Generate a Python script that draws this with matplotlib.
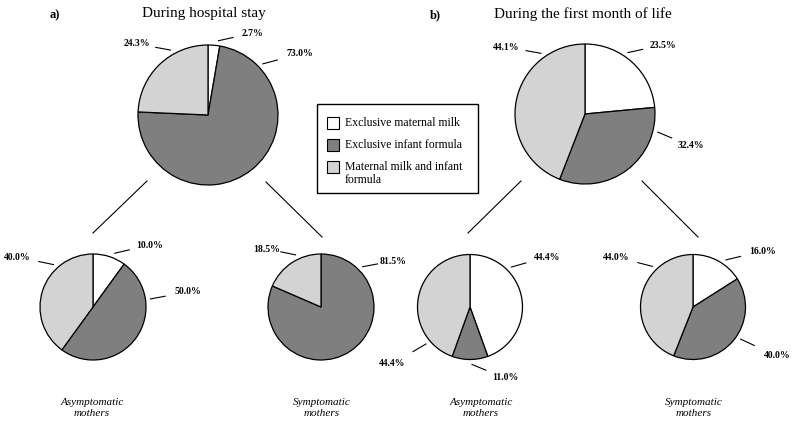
import numpy as np
import matplotlib
matplotlib.use("Agg")
import matplotlib.pyplot as plt
from matplotlib.patches import Rectangle

plt.rcParams.update({"font.family": ["Liberation Serif", "DejaVu Serif"]})

W, H = 798, 426

# data: share of feeding type (white, dark, light) per group
categories = ["Exclusive maternal milk", "Exclusive infant formula",
              "Maternal milk and infant\nformula"]
hosp_all = [2.7, 73.0, 24.3]
hosp_asym = [10.0, 50.0, 40.0]
hosp_sym = [0.0, 81.5, 18.5]
month_all = [23.5, 32.4, 44.1]
month_asym = [44.4, 11.0, 44.4]
month_sym = [16.0, 40.0, 44.0]

COLS = ["white", "#7f7f7f", "#d3d3d3"]

# layout (pixels, y down): centre, radius, per-slice (edge angle, text dx, text dy up)
PIES = [
    (hosp_all, (208, 115), 70, [(82, 45, 82), (43, 92, 61), (120, -71, 71)]),
    (month_all, (585, 114), 70, [(55, 78, 69), (-14, 106, -32), (126, -79, 67)]),
    (hosp_asym, (93, 307), 53, [(68, 57, 62), (8, 95, 15), (133, -76, 50)]),
    (hosp_sym, (321, 307), 53, [None, (44, 72, 46), (116, -54, 58)]),
    (month_asym, (470, 307), 52.5, [(44, 77, 50), (-88, 35, -71), (220, -78, -57)]),
    (month_sym, (693, 307), 52.5, [(55, 70, 56), (-34, 84, -49), (135, -77, 50)]),
]
LINKS = [((147, 181), (93, 233)), ((266, 182), (322, 237)),
         ((521, 181), (468, 233)), ((642, 181), (698, 237))]

fig = plt.figure(figsize=(W / 100, H / 100), dpi=100)
ax = fig.add_axes([0, 0, 1, 1])
Y = lambda y: H - y

for vals, (cx, cy), r, lay in PIES:
    ax.pie(vals, colors=COLS, startangle=90, counterclock=False, center=(cx, Y(cy)),
           radius=r, wedgeprops=dict(edgecolor="black", linewidth=0.9), frame=True)
    for v, L in zip(vals, lay):
        if L is None or v == 0:
            continue
        ang, tdx, tdy = L
        a = np.deg2rad(ang)
        x0, y0 = cx + (r + 5) * np.cos(a), Y(cy) + (r + 5) * np.sin(a)
        tx, ty = cx + tdx, Y(cy) + tdy
        d = np.array([tx - x0, ty - y0]); d /= np.hypot(*d)
        ax.plot([x0, x0 + 15 * d[0]], [y0, y0 + 15 * d[1]], color="black", lw=0.8)
        ax.text(tx, ty, f"{v:.1f}%", fontsize=7, fontweight="bold", ha="center", va="center")

for (x0, y0), (x1, y1) in LINKS:
    ax.plot([x0, x1], [Y(y0), Y(y1)], color="black", lw=0.8)

ax.set_xlim(0, W); ax.set_ylim(0, H); ax.set_aspect("equal"); ax.axis("off")

# titles
ax.text(55, Y(15), "a)", fontsize=9, fontweight="bold", ha="center", va="center")
ax.text(204, Y(14), "During hospital stay", fontsize=11, ha="center", va="center")
ax.text(435, Y(15), "b)", fontsize=9, fontweight="bold", ha="center", va="center")
ax.text(583, Y(14), "During the first month of life", fontsize=11, ha="center", va="center")

for x, lab in [(92, "Asymptomatic\nmothers"), (322, "Symptomatic\nmothers"),
               (481, "Asymptomatic\nmothers"), (694, "Symptomatic\nmothers")]:
    ax.text(x, Y(408), lab, fontsize=8, style="italic", ha="center", va="center",
            linespacing=1.3)

# legend
ax.add_patch(Rectangle((317, Y(193)), 161, 89, facecolor="white", edgecolor="black", lw=1.0))
for i, (c, lab) in enumerate(zip(COLS, categories)):
    yc = 123 + 22 * i
    ax.add_patch(Rectangle((327, Y(yc) - 6), 12, 12, facecolor=c, edgecolor="black", lw=0.8))
    ax.text(345, Y(yc) + 6.5, lab, fontsize=8.5, ha="left", va="top", linespacing=1.2)

fig.savefig("out.png", dpi=100)
